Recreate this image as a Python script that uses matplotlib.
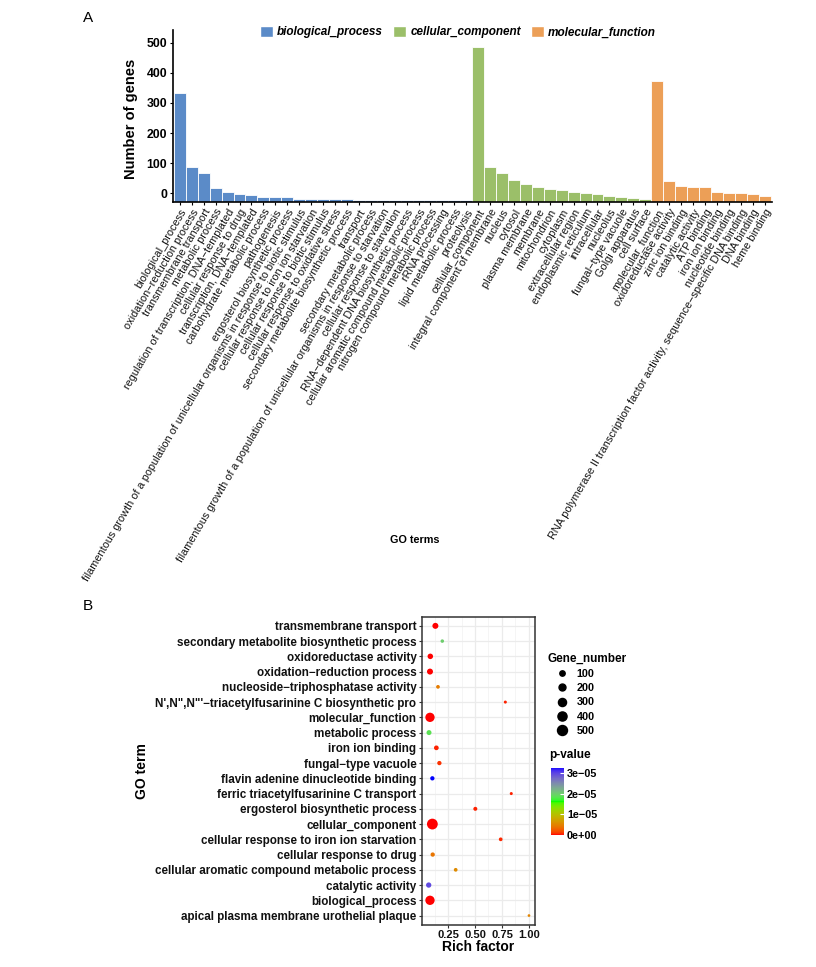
import numpy as np
import matplotlib
matplotlib.use("Agg")
import matplotlib.pyplot as plt
from matplotlib.patches import Patch
from matplotlib.lines import Line2D
from matplotlib.colors import ListedColormap, Normalize
from matplotlib.cm import ScalarMappable

plt.rcParams['font.family'] = ['Liberation Sans', 'DejaVu Sans']
M = "\u2212"

# ---------------- Panel A data ----------------
bp_terms = ["biological_process", f"oxidation{M}reduction process", "transmembrane transport",
            "metabolic process", f"regulation of transcription, DNA{M}templated",
            "cellular response to drug", f"transcription, DNA{M}templated",
            "carbohydrate metabolic process", "pathogenesis", "ergosterol biosynthetic process",
            "filamentous growth of a population of unicellular organisms in response to biotic stimulus",
            "cellular response to iron ion starvation", "cellular response to biotic stimulus",
            "cellular response to oxidative stress", "secondary metabolite biosynthetic process",
            "transport", "secondary metabolic process",
            "filamentous growth of a population of unicellular organisms in response to starvation",
            "cellular response to starvation", f"RNA{M}dependent DNA biosynthetic process",
            "cellular aromatic compound metabolic process", "nitrogen compound metabolic process",
            "rRNA processing", "lipid metabolic process", "proteolysis"]
bp_values = [332, 86, 67, 17, 4, -2, -7, -11, -13, -13, -19, -19, -20, -20, -20,
             -21, -21, -21, -21, -22, -22, -22, -22, -23, -23]

cc_terms = ["cellular_component", "integral component of membrane", "nucleus", "cytosol",
            "plasma membrane", "membrane", "mitochondrion", "cytoplasm", "extracellular region",
            "endoplasmic reticulum", "intracellular", "nucleolus", f"fungal{M}type vacuole",
            "Golgi apparatus", "cell surface"]
cc_values = [487, 88, 66, 43, 30, 21, 14, 10, 3, 0, -3, -8, -13, -15, -19]

mf_terms = ["molecular_function", "oxidoreductase activity", "zinc ion binding",
            "catalytic activity", "ATP binding", "iron ion binding", "nucleotide binding",
            f"RNA polymerase II transcription factor activity, sequence{M}specific DNA binding",
            "DNA binding", "heme binding"]
mf_values = [374, 42, 25, 21, 21, 4, 0, 0, -3, -8]

group_names = ["biological_process", "cellular_component", "molecular_function"]
group_colors = ["#5B8BC8", "#9BBF69", "#EC9F57"]

# ---------------- Panel B data ----------------
b_terms = ["transmembrane transport", "secondary metabolite biosynthetic process",
           "oxidoreductase activity", f"oxidation{M}reduction process",
           f"nucleoside{M}triphosphatase activity",
           f"N',N\",N\"'{M}triacetylfusarinine C biosynthetic pro",
           "molecular_function", "metabolic process", "iron ion binding",
           f"fungal{M}type vacuole", "flavin adenine dinucleotide binding",
           "ferric triacetylfusarinine C transport", "ergosterol biosynthetic process",
           "cellular_component", "cellular response to iron ion starvation",
           "cellular response to drug", "cellular aromatic compound metabolic process",
           "catalytic activity", "biological_process", "apical plasma membrane urothelial plaque"]
b_rich = [0.133, 0.197, 0.086, 0.083, 0.157, 0.781, 0.083, 0.074, 0.142, 0.170,
          0.105, 0.836, 0.503, 0.105, 0.738, 0.108, 0.321, 0.071, 0.083, 1.0]
b_genes = [134, 26, 106, 134, 32, 16, 419, 80, 67, 51, 51, 16, 40, 600, 32, 51, 32, 95, 419, 11]
b_pval = [1e-8, 2.0e-5, 1e-8, 1e-8, 4.5e-6, 5e-7, 1e-9, 1.85e-5, 5e-7, 8e-7,
          3.25e-5, 5e-7, 5e-7, 1e-9, 6e-7, 4e-6, 5.5e-6, 2.95e-5, 1e-9, 5e-6]
size_breaks = [100, 200, 300, 400, 500]
p_breaks = [0, 1e-5, 2e-5, 3e-5]
p_labels = ["0e+00", f"1e{M}05", f"2e{M}05", f"3e{M}05"]

# ---------------- helpers ----------------
def srgb_to_lab(rgb):
    c = np.asarray(rgb, float)
    lin = np.where(c <= 0.04045, c / 12.92, ((c + 0.055) / 1.055) ** 2.4)
    Mx = np.array([[0.4124, 0.3576, 0.1805], [0.2126, 0.7152, 0.0722], [0.0193, 0.1192, 0.9505]])
    xyz = Mx @ lin / np.array([0.95047, 1.0, 1.08883])
    f = np.where(xyz > 0.008856, np.cbrt(xyz), 7.787 * xyz + 16 / 116)
    return np.array([116 * f[1] - 16, 500 * (f[0] - f[1]), 200 * (f[1] - f[2])])

def lab_to_srgb(lab):
    L, a, b = lab
    fy = (L + 16) / 116
    fx = fy + a / 500
    fz = fy - b / 200
    f = np.array([fx, fy, fz])
    xyz = np.where(f ** 3 > 0.008856, f ** 3, (f - 16 / 116) / 7.787) * np.array([0.95047, 1.0, 1.08883])
    Mi = np.array([[3.2406, -1.5372, -0.4986], [-0.9689, 1.8758, 0.0415], [0.0557, -0.2040, 1.0570]])
    lin = np.clip(Mi @ xyz, 0, 1)
    c = np.where(lin <= 0.0031308, 12.92 * lin, 1.055 * lin ** (1 / 2.4) - 0.055)
    return np.clip(c, 0, 1)

def lab_cmap(colors, n=256):
    labs = [srgb_to_lab(c) for c in colors]
    out = []
    for t in np.linspace(0, 1, n):
        pos = t * (len(labs) - 1)
        i = min(int(pos), len(labs) - 2)
        fr = pos - i
        out.append(lab_to_srgb(labs[i] * (1 - fr) + labs[i + 1] * fr))
    return ListedColormap(out)

cmap = lab_cmap([(1, 0, 0), (0, 1, 0), (0, 0, 1)])
norm = Normalize(0, 3.25e-5)

def gene_px(n):
    n = np.asarray(n, float)
    return 1.8 * (1 + 5 * np.sqrt(np.clip((n - 5) / 595, 0, None)))

W, H = 816, 967
fig = plt.figure(figsize=(W / 100, H / 100), dpi=100)

def px_axes(l, t, r, b):
    return fig.add_axes([l / W, 1 - b / H, (r - l) / W, (b - t) / H])

# ---------------- Panel A ----------------
axA = px_axes(172.7, 30, 771.7, 201.7)
terms = bp_terms + cc_terms + mf_terms
values = np.array(bp_values + cc_values + mf_values, float)
colors = ([group_colors[0]] * len(bp_terms) + [group_colors[1]] * len(cc_terms)
          + [group_colors[2]] * len(mf_terms))
x = np.arange(len(terms))
base = -28
axA.bar(x, values - base, bottom=base, width=1.0, color=colors, edgecolor="white", linewidth=0.6)
axA.set_xlim(-0.6, len(terms) - 0.4)
axA.set_ylim(base, 542)
axA.set_yticks([0, 100, 200, 300, 400, 500])
axA.set_xticks(x)
axA.set_xticklabels(terms, rotation=59.5, ha="right", va="top", rotation_mode="anchor",
                    fontsize=7.8, color="#111111")
for lab in axA.get_yticklabels():
    lab.set_fontweight("bold")
    lab.set_fontsize(8.8)
for s in ["top", "right"]:
    axA.spines[s].set_visible(False)
for s in ["left", "bottom"]:
    axA.spines[s].set_linewidth(1.2)
axA.tick_params(axis="both", length=2.5, width=0.8, pad=1.5)
axA.set_ylabel("Number of genes", fontsize=10.5, fontweight="bold")
axA.yaxis.set_label_coords(-0.058, 0.48)
fig.text(415 / W, 1 - 540 / H, "GO terms", ha="center", va="center", fontsize=7.8, fontweight="bold")

handles = [Patch(facecolor=c, edgecolor="white") for c in group_colors]
fig.legend(handles, group_names, loc="center", bbox_to_anchor=(458 / W, 1 - 32 / H), ncol=3,
           frameon=False, prop={"weight": "bold", "style": "italic", "size": 8.5},
           handlelength=1.1, handleheight=1.1, columnspacing=0.85, handletextpad=0.35, borderpad=0)

fig.text(88 / W, 1 - 18 / H, "A", ha="center", va="center", fontsize=11)
fig.text(88 / W, 1 - 606 / H, "B", ha="center", va="center", fontsize=11)

# ---------------- Panel B ----------------
axB = px_axes(422, 616.7, 534.7, 924.7)
nB = len(b_terms)
yB = nB - 1 - np.arange(nB)
axB.set_axisbelow(True)
axB.scatter(b_rich, yB, s=(gene_px(b_genes) * 0.72) ** 2, c=b_pval, cmap=cmap, norm=norm,
            linewidths=0, zorder=3)
axB.set_ylim(-0.6, nB - 0.4)
axB.set_xlim(0.009, 1.053)
axB.set_yticks(yB)
axB.set_yticklabels(b_terms, fontsize=8.4, fontweight="bold", color="#111111")
axB.set_xticks([0.25, 0.5, 0.75, 1.0])
axB.set_xticklabels(["0.25", "0.50", "0.75", "1.00"], fontsize=8.0, fontweight="bold", color="#111111")
axB.set_xticks([0.125, 0.375, 0.625, 0.875], minor=True)
axB.grid(True, which="major", color="#EBEBEB", linewidth=0.9)
axB.grid(True, which="minor", axis="x", color="#F2F2F2", linewidth=0.5)
axB.tick_params(axis="both", which="major", length=2.5, width=0.8, color="#333333", pad=1.5)
axB.tick_params(axis="x", which="minor", length=0)
for s in axB.spines.values():
    s.set_color("#333333")
    s.set_linewidth(1.1)
axB.set_xlabel("Rich factor", fontsize=10, fontweight="bold", labelpad=0)
axB.set_ylabel("GO term", fontsize=10, fontweight="bold")
axB.yaxis.set_label_coords(-2.42, 0.5)

# size legend
sh = [Line2D([], [], marker="o", linestyle="", color="black", markersize=float(gene_px(v)) * 0.72)
      for v in size_breaks]
leg = fig.legend(sh, [str(v) for v in size_breaks], title="Gene_number", loc="upper left",
                 bbox_to_anchor=(542 / W, 1 - 647 / H), frameon=False,
                 prop={"weight": "bold", "size": 7.8},
                 title_fontproperties={"weight": "bold", "size": 8.5},
                 alignment="left", labelspacing=0.4, handletextpad=0.0, borderpad=0,
                 handlelength=2.7)

# colorbar
cax = px_axes(550.7, 767.7, 564.3, 835)
cb = fig.colorbar(ScalarMappable(norm=norm, cmap=cmap), cax=cax, ticks=p_breaks)
cb.ax.set_yticklabels(p_labels)
cb.outline.set_visible(False)
cb.ax.tick_params(axis="y", direction="in", color="white", length=3, width=0.8, pad=2)
for lab in cb.ax.get_yticklabels():
    lab.set_fontweight("bold")
    lab.set_fontsize(7.8)
fig.text(549 / W, 1 - 755 / H, "p-value", ha="left", va="center", fontsize=8.5, fontweight="bold")

fig.savefig("out.png", dpi=100)
